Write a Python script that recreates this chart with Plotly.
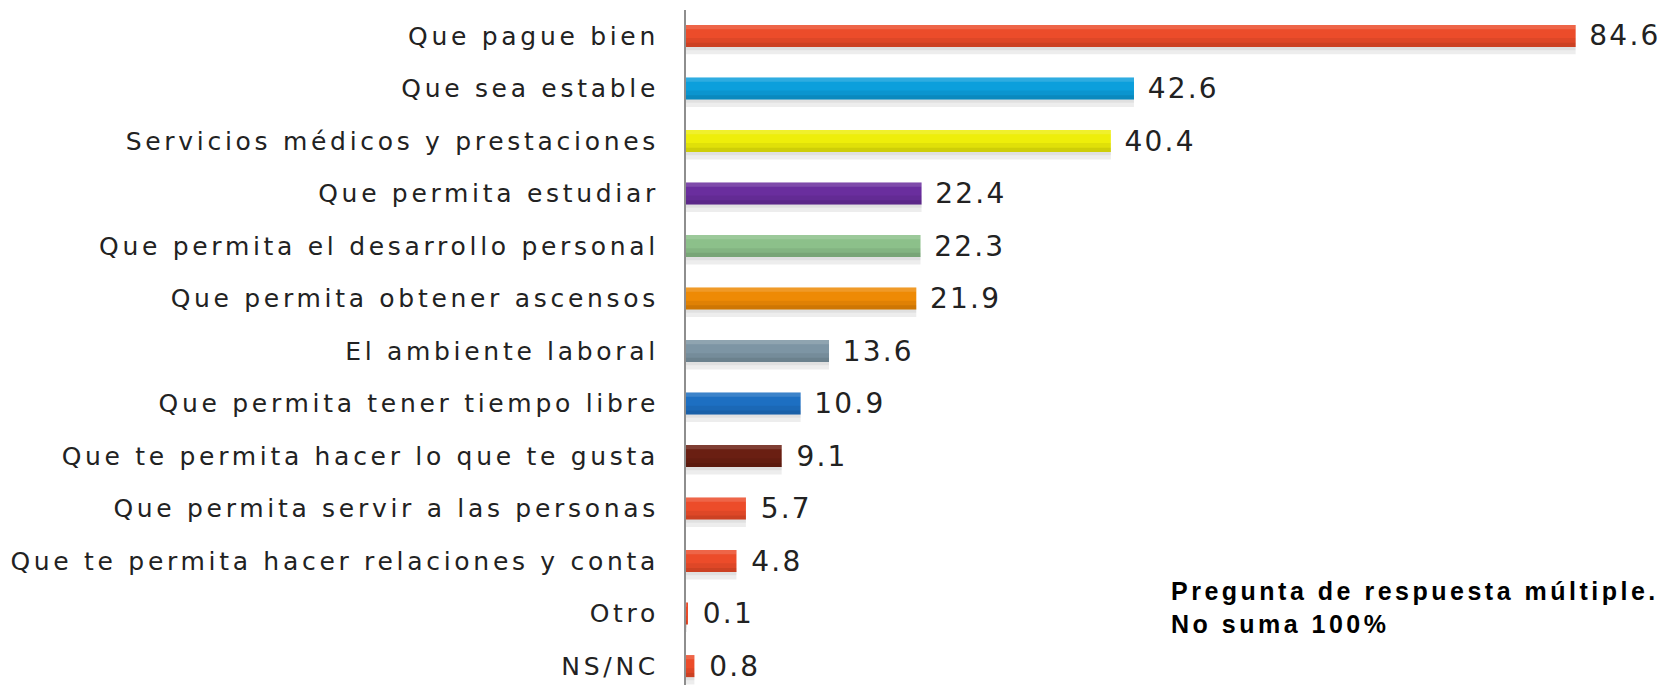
import plotly.graph_objects as go

categories = [
    "Que pague bien",
    "Que sea estable",
    "Servicios médicos y prestaciones",
    "Que permita estudiar",
    "Que permita el desarrollo personal",
    "Que permita obtener ascensos",
    "El ambiente laboral",
    "Que permita tener tiempo libre",
    "Que te permita hacer lo que te gusta",
    "Que permita servir a las personas",
    "Que te permita hacer relaciones y conta",
    "Otro",
    "NS/NC",
]
values = [84.6, 42.6, 40.4, 22.4, 22.3, 21.9, 13.6, 10.9, 9.1, 5.7, 4.8, 0.1, 0.8]
colors = [
    "#EC4C2A", "#0C9FDC", "#EEEE0A", "#6A2E9E", "#8CC08A", "#EE8A05",
    "#7D95A4", "#1D6FC2", "#6A1F12", "#EC4C2A", "#EC4C2A", "#EC4C2A", "#EC4C2A",
]
note_lines = ["Pregunta de respuesta múltiple.", "No suma 100%"]

fig = go.Figure()

# soft shadow under each bar
fig.add_trace(go.Bar(
    x=values, y=categories, orientation="h",
    marker=dict(color="rgba(0,0,0,0.07)", line=dict(width=0)),
    width=0.15, offset=0.2, hoverinfo="skip", showlegend=False,
))
fig.add_trace(go.Bar(
    x=values, y=categories, orientation="h",
    marker=dict(color="rgba(0,0,0,0.05)", line=dict(width=0)),
    width=0.07, offset=0.2, hoverinfo="skip", showlegend=False,
))
# main bars
fig.add_trace(go.Bar(
    x=values, y=categories, orientation="h",
    marker=dict(color=colors, line=dict(width=0)),
    width=0.42, offset=-0.21,
    text=values, texttemplate="\u2002%{x:.1f}", textposition="outside",
    textfont=dict(family="DejaVu Sans", size=28, color="#222222"),
    constraintext="none", cliponaxis=False, showlegend=False,
))
# bevel shading: light top, darker bottom
fig.add_trace(go.Bar(
    x=values, y=categories, orientation="h",
    marker=dict(color="rgba(255,255,255,0.14)", line=dict(width=0)),
    width=0.08, offset=-0.21, hoverinfo="skip", showlegend=False,
))
fig.add_trace(go.Bar(
    x=values, y=categories, orientation="h",
    marker=dict(color="rgba(0,0,0,0.06)", line=dict(width=0)),
    width=0.17, offset=0.04, hoverinfo="skip", showlegend=False,
))
fig.add_trace(go.Bar(
    x=values, y=categories, orientation="h",
    marker=dict(color="rgba(0,0,0,0.08)", line=dict(width=0)),
    width=0.08, offset=0.13, hoverinfo="skip", showlegend=False,
))

fig.add_annotation(
    text="<br>".join(note_lines),
    xref="paper", yref="paper", x=0.494, y=0.115,
    xanchor="left", yanchor="middle", align="left", showarrow=False,
    font=dict(family="Liberation Sans", size=25, color="#000000", weight="bold"),
)

fig.update_layout(
    width=1664, height=685,
    margin=dict(l=686, r=0, t=10, b=0),
    paper_bgcolor="white", plot_bgcolor="white",
    barmode="overlay",
    font=dict(family="DejaVu Sans", color="#222222"),
    xaxis=dict(range=[0, 93.0], visible=False, fixedrange=True),
    yaxis=dict(
        type="category", categoryorder="array", categoryarray=categories,
        range=[12.36, -0.495],
        showline=True, linecolor="#8E8E8E", linewidth=2,
        showgrid=False, zeroline=False, ticks="",
        ticklabelstandoff=20,
        tickfont=dict(family="DejaVu Sans", size=25, color="#222222"),
    ),
)

post = """
document.body.style.margin='0';
document.body.style.overflow='hidden';
var gd = document.getElementsByClassName('plotly-graph-div')[0];
gd.querySelectorAll('.ytick text').forEach(function(t){t.style.letterSpacing='3.7px';});
gd.querySelectorAll('text.bartext').forEach(function(t){t.style.letterSpacing='2.2px';});
gd.querySelectorAll('text.annotation-text').forEach(function(t){t.style.letterSpacing='3.5px';});
"""

fig.write_html("out.html", post_script=post, config={"displayModeBar": False})
